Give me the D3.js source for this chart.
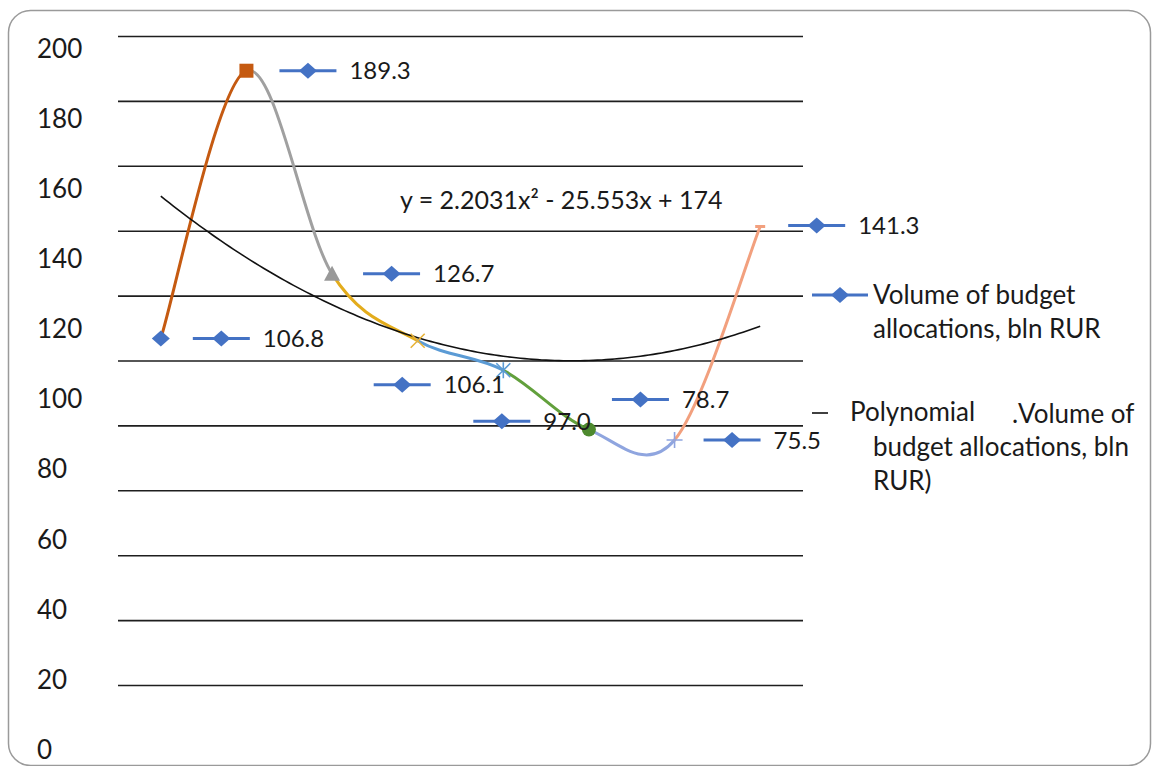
<!DOCTYPE html>
<html>
<head>
<meta charset="utf-8">
<script src="https://cdn.jsdelivr.net/npm/d3@7"></script>
<style>
  body { margin: 0; background: #fff; overflow: hidden; }
  text { font-family: Lato, "Open Sans", sans-serif; fill: #1a1a1a; }
</style>
</head>
<body>
<script>
// data
var periods = [1, 2, 3, 4, 5, 6, 7, 8];
var budget = [106.8, 189.3, 126.7, 106.1, 97.0, 78.7, 75.5, 141.3];
var yTicks = [0, 20, 40, 60, 80, 100, 120, 140, 160, 180, 200];
// trendline coefficients as printed on the chart: y = a x^2 + b x + c
var trendCoef = [2.2031, -25.553, 174];
var trendLabel = "y = 2.2031x\u00b2 - 25.553x + 174";

// styles per point (Excel "vary colors by point")
var segColors = ["#c55a11", "#a0a0a0", "#e3ac1c", "#5b9bd5", "#62a03c", "#8fa5df", "#f2a07e"];
var markerTypes = ["diamond", "square", "triangle", "x", "star", "circle", "plus", "dash"];
var markerColors = ["#4472c4", "#c55a11", "#999999", "#e8b33a", "#5b9bd5", "#4e8a2f", "#8fa5df", "#f2a07e"];
// label offsets from the point (where the little legend key starts)
var labelOffsets = [[32, 0], [33, 0], [31, 0], [-44, 44], [-30, 51], [23, -30], [29, 0], [28, -1]];

var W = 1153, H = 766;
var svg = d3.select("body").append("svg")
    .attr("width", W)
    .attr("height", H);

// chart frame
svg.append("rect")
    .attr("x", 8.5).attr("y", 10.5)
    .attr("width", 1142).attr("height", 755)
    .attr("rx", 22)
    .attr("fill", "none")
    .attr("stroke", "#9a9a9a")
    .attr("stroke-width", 1.5);

// scales
var x = d3.scalePoint().domain(periods).range([118, 803]).padding(0.5);
var y = d3.scaleLinear().domain([0, 200]).range([685, 36]);
// tick labels in the picture sit on their own spacing
var yLab = d3.scaleLinear().domain([0, 200]).range([749, 48]);
var xLin = d3.scaleLinear().domain([1, 8]).range([x(1), x(8)]);

// gridlines
svg.append("g")
    .attr("class", "grid")
    .attr("transform", "translate(118,0)")
    .call(d3.axisRight(y).tickValues(yTicks).tickSize(685).tickFormat(""))
    .call(function(g) {
        g.select(".domain").remove();
        g.selectAll("line").attr("stroke", "#1e1e1e").attr("stroke-width", 1.6);
    });

// y tick labels
svg.append("g")
    .attr("transform", "translate(37,0)")
    .call(d3.axisLeft(yLab).tickValues(yTicks).tickSize(0).tickPadding(0))
    .call(function(g) {
        g.select(".domain").remove();
        g.selectAll("text")
            .attr("text-anchor", "start")
            .attr("x", 0)
            .attr("dy", "0.36em")
            .style("font-size", "26px")
            .style("font-family", "Lato, sans-serif")
            .attr("fill", "#1a1a1a");
    });

// smooth series, drawn segment by segment (cardinal / Catmull-Rom style)
var pts = periods.map(function(p, i) { return [x(p), y(budget[i])]; });
for (var i = 0; i < pts.length - 1; i++) {
    var p0 = pts[Math.max(i - 1, 0)], p1 = pts[i], p2 = pts[i + 1],
        p3 = pts[Math.min(i + 2, pts.length - 1)];
    var c1 = [p1[0] + (p2[0] - p0[0]) / 6, p1[1] + (p2[1] - p0[1]) / 6];
    var c2 = [p2[0] - (p3[0] - p1[0]) / 6, p2[1] - (p3[1] - p1[1]) / 6];
    var path = d3.path();
    path.moveTo(p1[0], p1[1]);
    path.bezierCurveTo(c1[0], c1[1], c2[0], c2[1], p2[0], p2[1]);
    svg.append("path")
        .attr("d", path.toString())
        .attr("fill", "none")
        .attr("stroke", segColors[i])
        .attr("stroke-width", 3)
        .attr("stroke-linecap", "round");
}

// polynomial trendline
var trendPts = d3.range(1, 8.001, 0.05).map(function(t) {
    return [t, trendCoef[0] * t * t + trendCoef[1] * t + trendCoef[2]];
});
svg.append("path")
    .datum(trendPts)
    .attr("fill", "none")
    .attr("stroke", "#111")
    .attr("stroke-width", 1.6)
    .attr("d", d3.line()
        .x(function(d) { return xLin(d[0]); })
        .y(function(d) { return y(d[1]); }));

function drawMarker(g, type, color) {
    if (type == "diamond") {
        g.append("path").attr("d", "M-9,0L0,-8L9,0L0,8Z").attr("fill", color);
    } else if (type == "square") {
        g.append("rect").attr("x", -7).attr("y", -7).attr("width", 14).attr("height", 14).attr("fill", color);
    } else if (type == "triangle") {
        g.append("path").attr("d", "M0,-8L8,7L-8,7Z").attr("fill", color);
    } else if (type == "x") {
        g.append("path").attr("d", "M-7,-7L7,7M-7,7L7,-7").attr("stroke", color).attr("stroke-width", 1.6);
    } else if (type == "star") {
        g.append("path").attr("d", "M-7,-7L7,7M-7,7L7,-7M0,-8L0,8").attr("stroke", color).attr("stroke-width", 1.6);
    } else if (type == "circle") {
        g.append("circle").attr("r", 7).attr("fill", color);
    } else if (type == "plus") {
        g.append("path").attr("d", "M-8,0L8,0M0,-8L0,8").attr("stroke", color).attr("stroke-width", 1.6);
    } else if (type == "dash") {
        g.append("path").attr("d", "M-5,0L5,0").attr("stroke", color).attr("stroke-width", 3);
    }
}

// markers
pts.forEach(function(p, i) {
    var g = svg.append("g").attr("transform", "translate(" + p[0] + "," + p[1] + ")");
    drawMarker(g, markerTypes[i], markerColors[i]);
});

// legend key (blue line with diamond)
function legendKey(g, len) {
    g.append("line").attr("x1", 0).attr("x2", len)
        .attr("stroke", "#4472c4").attr("stroke-width", 3);
    var d = g.append("g").attr("transform", "translate(" + (len / 2) + ",0)");
    drawMarker(d, "diamond", "#4472c4");
}

// data labels with legend key
pts.forEach(function(p, i) {
    var g = svg.append("g")
        .attr("transform", "translate(" + (p[0] + labelOffsets[i][0]) + "," + (p[1] + labelOffsets[i][1]) + ")");
    legendKey(g, 57);
    g.append("text")
        .attr("x", 70)
        .attr("dy", "0.36em")
        .style("font-size", "24px")
        .text(budget[i].toFixed(1));
});

// trendline equation
svg.append("text")
    .attr("x", 400).attr("y", 209)
    .style("font-size", "25px")
    .text(trendLabel);

// legend
var lg = svg.append("g").attr("transform", "translate(812,295)");
legendKey(lg, 56);
lg.append("text").attr("x", 61).attr("y", 9).style("font-size", "26px").text("Volume of budget");
lg.append("text").attr("x", 61).attr("y", 43).style("font-size", "26px").text("allocations, bln RUR");

var lg2 = svg.append("g").attr("transform", "translate(812,413)");
lg2.append("line").attr("x1", 0).attr("x2", 16).attr("stroke", "#111").attr("stroke-width", 1.6);
lg2.append("text").attr("x", 38).attr("y", 8).style("font-size", "26px").text("Polynomial");
lg2.append("text").attr("x", 200).attr("y", 10).style("font-size", "26px").text(".");
lg2.append("text").attr("x", 206).attr("y", 10).style("font-size", "26px").text("Volume of");
lg2.append("text").attr("x", 61).attr("y", 43).style("font-size", "26px").text("budget allocations, bln");
lg2.append("text").attr("x", 61).attr("y", 77).style("font-size", "26px").text("RUR)");
</script>
</body>
</html>
